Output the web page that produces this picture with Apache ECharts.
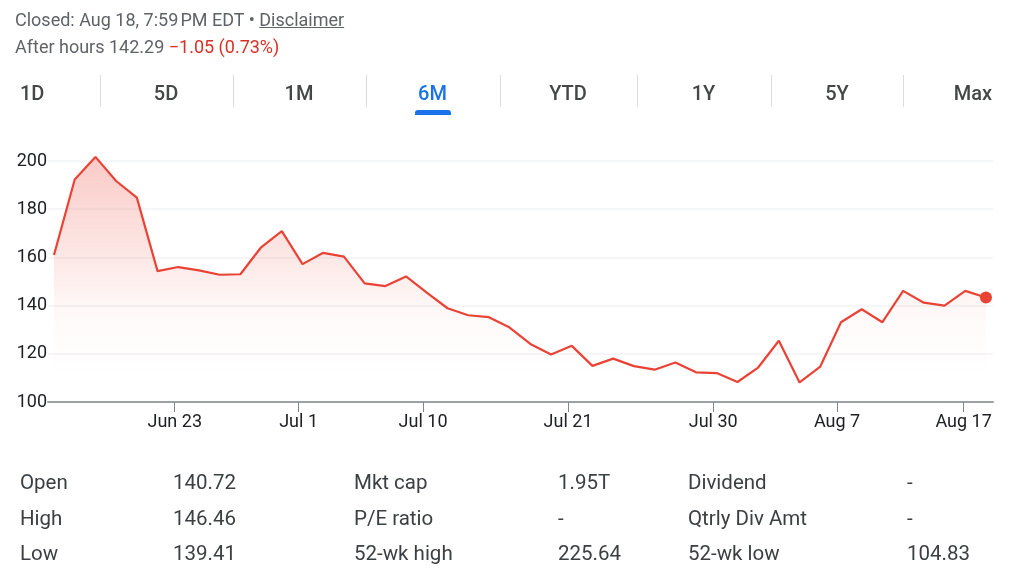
<!DOCTYPE html>
<html>
<head>
<meta charset="utf-8">
<script src="https://cdn.jsdelivr.net/npm/echarts@6/dist/echarts.min.js"></script>
<style>
  html, body { margin: 0; padding: 0; background: #fff; }
  body { width: 1011px; height: 588px; position: relative; overflow: hidden; font-family: Roboto, "Noto Sans", sans-serif; }
  #chart { position: absolute; left: 0; top: 0; width: 1011px; height: 588px; }
  .abs { position: absolute; white-space: nowrap; }
  .hdr { font-size: 18px; line-height: 22px; color: #5f6368; left: 15px; }
  .tab { font-size: 20px; line-height: 24px; font-weight: 500; color: #444746; top: 81px; }
  .sep { width: 1px; background: #dadce0; top: 75px; height: 32px; }
  .cell { font-size: 20.5px; line-height: 24px; color: #3c4043; }
</style>
</head>
<body>
<div id="chart"></div>
<div id="overlay"></div>
<script>
// ---- data ----
const prices = [161.0, 192.3, 201.7, 191.7, 184.8, 154.3, 156.0, 154.6, 152.8, 153.0,
                164.2, 170.9, 157.2, 161.9, 160.3, 149.2, 148.1, 152.1, 145.4, 138.9,
                136.0, 135.2, 130.9, 124.1, 119.7, 123.3, 115.0, 118.0, 114.9, 113.4,
                116.4, 112.3, 112.0, 108.3, 114.3, 125.4, 108.1, 114.7, 133.1, 138.5,
                133.1, 146.1, 141.2, 140.0, 146.1, 143.34];
const tickLabels = ["Jun 23", "Jul 1", "Jul 10", "Jul 21", "Jul 30", "Aug 7", "Aug 17"];
const tickPositions = [5.83, 11.81, 17.82, 24.82, 31.83, 37.81, 43.92];
const yTicks = [100, 120, 140, 160, 180, 200];
const tabs = ["1D", "5D", "1M", "6M", "YTD", "1Y", "5Y", "Max"];
const activeTab = "6M";
const statLabelsA = ["Open", "High", "Low"];
const statValuesA = ["140.72", "146.46", "139.41"];
const statLabelsB = ["Mkt cap", "P/E ratio", "52-wk high"];
const statValuesB = ["1.95T", "-", "225.64"];
const statLabelsC = ["Dividend", "Qtrly Div Amt", "52-wk low"];
const statValuesC = ["-", "-", "104.83"];

// ---- overlay text (header, tabs, stats) ----
const ov = document.getElementById('overlay');
function add(html, cls, style) {
  const d = document.createElement('div');
  d.className = 'abs ' + cls;
  d.innerHTML = html;
  Object.assign(d.style, style);
  ov.appendChild(d);
  return d;
}
add('Closed: Aug 18, 7:59\u202FPM EDT \u2022 <span style="text-decoration:underline">Disclaimer</span>', 'hdr', { top: '9px' });
add('After hours 142.29 <span style="color:#d93025">\u22121.05 (0.73%)</span>', 'hdr', { top: '36px' });

const tabCenters = [null, 166, 299, 432.5, 568, 703.5, 837, null];
tabs.forEach((t, i) => {
  const style = {};
  if (i === 0) { style.left = '20px'; }
  else if (i === tabs.length - 1) { style.right = (1011 - 992) + 'px'; }
  else { style.left = (tabCenters[i] - 60) + 'px'; style.width = '120px'; style.textAlign = 'center'; }
  if (t === activeTab) style.color = '#1a73e8';
  add(t, 'tab', style);
});
[100, 232.5, 366, 500, 636.7, 770.7, 903.3].forEach(x => add('', 'sep', { left: x + 'px' }));
add('', '', { left: '415px', top: '110px', width: '36px', height: '5px', background: '#1a73e8', borderRadius: '3px 3px 0 0' });

const rowTops = [470, 506, 541];
const cols = [[statLabelsA, 20], [statValuesA, 173], [statLabelsB, 354], [statValuesB, 558], [statLabelsC, 688], [statValuesC, 907]];
cols.forEach(([arr, x]) => arr.forEach((s, r) => add(s, 'cell', { left: x + 'px', top: rowTops[r] + 'px' })));

// ---- chart ----
const chart = echarts.init(document.getElementById('chart'), null, { renderer: 'canvas' });
const seriesData = prices.map((v, i) => [i, v]);
const last = prices.length - 1;
chart.setOption({
  animation: false,
  backgroundColor: 'transparent',
  grid: { left: 48, right: 18, top: 161, bottom: 186 },
  xAxis: {
    type: 'value',
    min: -0.29,
    max: 45.34,
    axisLine: { show: true, lineStyle: { color: '#9aa0a6', width: 2 } },
    axisTick: { show: true, length: 10, customValues: tickPositions, lineStyle: { color: '#80868b', width: 1 } },
    axisLabel: {
      customValues: tickPositions,
      formatter: (v) => { const k = tickPositions.findIndex(p => Math.abs(p - v) < 1e-6); return k >= 0 ? tickLabels[k] : ''; },
      color: '#202124', fontSize: 18, fontFamily: 'Roboto', margin: 11
    },
    splitLine: { show: false }
  },
  yAxis: {
    type: 'value',
    min: yTicks[0],
    max: yTicks[yTicks.length - 1],
    interval: 20,
    axisLine: { show: false },
    axisTick: { show: false },
    axisLabel: { color: '#202124', fontSize: 18, fontFamily: 'Roboto', margin: 1 },
    splitLine: { show: true, lineStyle: { color: '#f1f3f4', width: 1.5 } }
  },
  series: [{
    type: 'line',
    data: seriesData,
    clip: false,
    symbol: 'circle',
    showSymbol: true,
    showAllSymbol: true,
    symbolSize: (v, p) => (p.dataIndex === last ? 12 : 0),
    itemStyle: { color: '#ea4335' },
    lineStyle: { color: '#ea4335', width: 2.2 },
    areaStyle: {
      color: new echarts.graphic.LinearGradient(0, 0, 0, 1, [
        { offset: 0, color: 'rgba(234,67,53,0.40)' },
        { offset: 0.4, color: 'rgba(234,67,53,0.18)' },
        { offset: 0.65, color: 'rgba(234,67,53,0.04)' },
        { offset: 0.9, color: 'rgba(234,67,53,0.0)' },
        { offset: 1, color: 'rgba(234,67,53,0.0)' }
      ])
    },
    emphasis: { disabled: true }
  }]
});
</script>
</body>
</html>
